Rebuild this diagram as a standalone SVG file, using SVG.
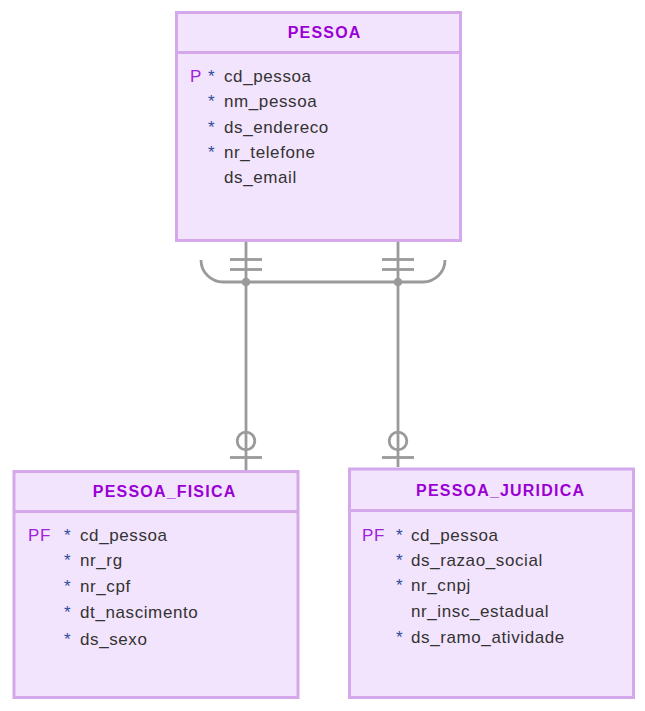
<svg xmlns="http://www.w3.org/2000/svg" width="645" height="711" viewBox="0 0 645 711">
  <style>
    .box { fill: #f3e4fd; stroke: #d4a8ea; stroke-width: 3; }
    .sep { stroke: #d4a8ea; stroke-width: 3; fill: none; }
    .title { font-family: "Liberation Sans", Arial, sans-serif; font-size: 16px; font-weight: bold; fill: #9a00d4; text-anchor: middle; letter-spacing: 1.2px; }
    .key { font-family: "Liberation Sans", Arial, sans-serif; font-size: 17px; fill: #a020e0; letter-spacing: 0.7px; }
    .req { font-family: "Liberation Sans", Arial, sans-serif; font-size: 17px; fill: #2b4c9e; }
    .col { font-family: "Liberation Sans", Arial, sans-serif; font-size: 17px; fill: #333333; letter-spacing: 0.6px; }
    .rel { stroke: #9a9a9a; stroke-width: 2.8; fill: none; }
    .dot { fill: #9a9a9a; }
  </style>

  <!-- relationship lines: PESSOA to its two subtypes (exclusive arc) -->
  <g id="connectors">
    <line class="rel" x1="246" y1="242" x2="246" y2="470"/>
    <line class="rel" x1="398" y1="242" x2="398" y2="467"/>
    <!-- one-and-only-one bars at the parent side -->
    <line class="rel" x1="230" y1="259.5" x2="262" y2="259.5"/>
    <line class="rel" x1="230" y1="269.5" x2="262" y2="269.5"/>
    <line class="rel" x1="382" y1="259.5" x2="414" y2="259.5"/>
    <line class="rel" x1="382" y1="269.5" x2="414" y2="269.5"/>
    <!-- exclusive arc -->
    <path class="rel" d="M201,260 A22,22 0 0 0 223,282 L423,282 A22,22 0 0 0 445,260"/>
    <circle class="dot" cx="246" cy="282" r="4.3"/>
    <circle class="dot" cx="398" cy="282" r="4.3"/>
    <!-- zero-or-one at the child side -->
    <circle class="rel" cx="246" cy="441" r="8.8"/>
    <line class="rel" x1="230" y1="457.5" x2="262" y2="457.5"/>
    <circle class="rel" cx="398" cy="441" r="8.8"/>
    <line class="rel" x1="382" y1="457.5" x2="414" y2="457.5"/>
  </g>

  <g id="pessoa">
    <rect class="box" x="176.5" y="12.5" width="284" height="228"/>
    <line class="sep" x1="176.5" y1="52.5" x2="460.5" y2="52.5"/>
    <text class="title" x="324.6" y="38">PESSOA</text>
    <text class="key" x="190" y="82">P</text>
    <text class="req" x="208" y="82">*</text>
    <text class="col" x="224" y="82">cd_pessoa</text>
    <text class="req" x="208" y="107">*</text>
    <text class="col" x="224" y="107">nm_pessoa</text>
    <text class="req" x="208" y="133">*</text>
    <text class="col" x="224" y="133">ds_endereco</text>
    <text class="req" x="208" y="158">*</text>
    <text class="col" x="224" y="158">nr_telefone</text>
    <text class="col" x="224" y="183">ds_email</text>
  </g>

  <g id="pessoa_fisica">
    <rect class="box" x="14" y="471.5" width="284" height="226"/>
    <line class="sep" x1="14" y1="511.5" x2="298" y2="511.5"/>
    <text class="title" x="164.6" y="497">PESSOA_FISICA</text>
    <text class="key" x="28" y="541">PF</text>
    <text class="req" x="64" y="541">*</text>
    <text class="col" x="80" y="541">cd_pessoa</text>
    <text class="req" x="64" y="566">*</text>
    <text class="col" x="80" y="566">nr_rg</text>
    <text class="req" x="64" y="592">*</text>
    <text class="col" x="80" y="592">nr_cpf</text>
    <text class="req" x="64" y="618">*</text>
    <text class="col" x="80" y="618">dt_nascimento</text>
    <text class="req" x="64" y="645">*</text>
    <text class="col" x="80" y="645">ds_sexo</text>
  </g>

  <g id="pessoa_juridica">
    <rect class="box" x="349.5" y="469" width="284" height="228.5"/>
    <line class="sep" x1="349.5" y1="510.5" x2="633.5" y2="510.5"/>
    <text class="title" x="500.6" y="496">PESSOA_JURIDICA</text>
    <text class="key" x="362" y="541">PF</text>
    <text class="req" x="396" y="541">*</text>
    <text class="col" x="411" y="541">cd_pessoa</text>
    <text class="req" x="396" y="566">*</text>
    <text class="col" x="411" y="566">ds_razao_social</text>
    <text class="req" x="396" y="591">*</text>
    <text class="col" x="411" y="591">nr_cnpj</text>
    <text class="col" x="411" y="617">nr_insc_estadual</text>
    <text class="req" x="396" y="643">*</text>
    <text class="col" x="411" y="643">ds_ramo_atividade</text>
  </g>
</svg>
